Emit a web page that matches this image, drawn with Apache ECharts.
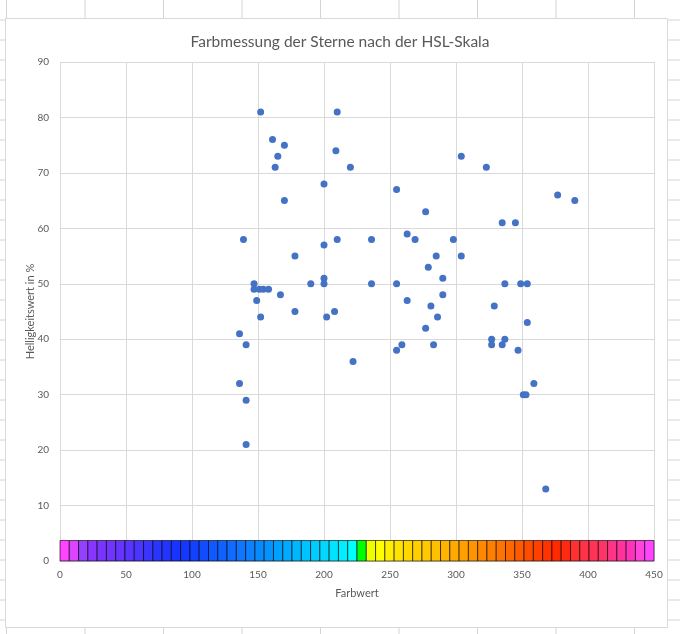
<!DOCTYPE html>
<html>
<head>
<meta charset="utf-8">
<script src="https://cdn.jsdelivr.net/npm/echarts@6/dist/echarts.min.js"></script>
<style>
  html, body { margin: 0; padding: 0; background: #ffffff; }
  #chart { width: 680px; height: 634px; }
</style>
</head>
<body>
<div id="chart"></div>
<script>
// Messwerte: Farbwert (Hue) und Helligkeit in % je Stern
const farbwert = [
  152, 210, 161, 170, 165, 209, 163, 220, 200, 170,
  139, 210, 236, 200, 178, 200, 147, 190, 200, 236,
  147, 151, 154, 158, 149, 167, 178, 208, 152, 202,
  136, 141, 222, 136, 141, 141,
  304, 323, 255, 277, 263, 269, 298, 285, 304, 279,
  290, 255, 290, 263, 281, 329, 286, 277, 327, 327,
  259, 283, 255,
  377, 390, 335, 345, 337, 349, 354, 354, 337, 335, 347,
  359, 351, 353, 368
];
const helligkeit = [
  81, 81, 76, 75, 73, 74, 71, 71, 68, 65,
  58, 58, 58, 57, 55, 51, 50, 50, 50, 50,
  49, 49, 49, 49, 47, 48, 45, 45, 44, 44,
  41, 39, 36, 32, 29, 21,
  73, 71, 67, 63, 59, 58, 58, 55, 55, 53,
  51, 50, 48, 47, 46, 46, 44, 42, 40, 39,
  39, 39, 38,
  66, 65, 61, 61, 50, 50, 50, 43, 40, 39, 38,
  32, 30, 30, 13
];

// Farbskala am unteren Rand: 64 gleich breite Felder von 0 bis 450
const skalaFarben = [
  '#ff44ff', '#dd44ff', '#9440ff', '#8836ff', '#7a34ff', '#7034ff', '#6634ff', '#5834ff',
  '#4a34ff', '#3c34ff', '#2a34ff', '#2234ff', '#1a34ff', '#1438ff', '#1242ff', '#114cff',
  '#1058ff', '#1062ff', '#106cff', '#1076ff', '#0c80ff', '#088aff', '#0494ff', '#00a0ff',
  '#00aaff', '#00b6ff', '#00c2ff', '#00ccff', '#00d8ff', '#00e4ff', '#00eeff', '#00ffff',
  '#00ff00', '#eeff00', '#ffff00', '#ffee00', '#ffe400', '#ffd800', '#ffd000', '#ffc800',
  '#ffc000', '#ffb400', '#ffaa00', '#ffa000', '#ff9400', '#ff8800', '#ff8000', '#ff7400',
  '#ff6800', '#ff5a00', '#ff4c00', '#ff4000', '#ff3300', '#ff2a00', '#ff2a10', '#ff3030',
  '#ff3348', '#ff3355', '#ff3366', '#ff3388', '#ff3399', '#ff33bb', '#ff44dd', '#ff44ff'
];
const skalaHoehe = 3.7;

// Achsen
const xMin = 0, xMax = 450, xStep = 50;
const yMin = 0, yMax = 90, yStep = 10;

const punkte = farbwert.map((x, i) => [x, helligkeit[i]]);
const feldBreite = (xMax - xMin) / skalaFarben.length;
const skalaDaten = skalaFarben.map((_, i) => [xMin + i * feldBreite, xMin + (i + 1) * feldBreite, skalaHoehe, i]);

// Tabellenraster hinter dem Diagrammbereich
const raster = [];
const spaltenX = [6.5, 85, 163.5, 242, 320.5, 399, 477.5, 556, 634.5];
spaltenX.forEach(x => raster.push({
  type: 'line', z: -20, silent: true,
  shape: { x1: x, y1: 0, x2: x, y2: 634 },
  style: { stroke: '#d4d4d4', lineWidth: 1 }
}));
for (let y = 20; y < 634; y += 20) {
  raster.push({
    type: 'line', z: -20, silent: true,
    shape: { x1: 0, y1: y, x2: 680, y2: y },
    style: { stroke: '#d4d4d4', lineWidth: 1 }
  });
}
raster.push({
  type: 'rect', z: -10, silent: true,
  shape: { x: 5.5, y: 18.5, width: 662, height: 609 },
  style: { fill: '#ffffff', stroke: '#d9d9d9', lineWidth: 1 }
});

const schrift = 'Lato, "Open Sans", sans-serif';
const textGrau = '#595959';

// Ein Farbfeld der Skala als Rechteck zwischen zwei Farbwerten
function skalaFeld(params, api) {
  const unten = api.coord([api.value(0), 0]);
  const oben = api.coord([api.value(1), api.value(2)]);
  return {
    type: 'rect',
    shape: { x: unten[0], y: oben[1], width: oben[0] - unten[0], height: unten[1] - oben[1] },
    style: { fill: skalaFarben[api.value(3)], stroke: 'rgba(0,0,0,0.62)', lineWidth: 1 }
  };
}

const chart = echarts.init(document.getElementById('chart'), null, { renderer: 'canvas' });
chart.setOption({
  animation: false,
  backgroundColor: '#ffffff',
  graphic: { elements: raster },
  title: {
    text: 'Farbmessung der Sterne nach der HSL-Skala',
    left: 'center',
    top: 29,
    textStyle: { fontFamily: schrift, fontSize: 15.5, fontWeight: 'normal', color: textGrau }
  },
  grid: { left: 60, right: 26, top: 62, bottom: 73, containLabel: false },
  xAxis: {
    type: 'value',
    min: xMin, max: xMax, interval: xStep,
    name: 'Farbwert',
    nameLocation: 'middle',
    nameGap: 27,
    nameMoveOverlap: false,
    nameTextStyle: { fontFamily: schrift, fontSize: 11, color: textGrau },
    axisLine: { show: true, lineStyle: { color: '#d9d9d9' } },
    axisTick: { show: false },
    axisLabel: { fontFamily: schrift, fontSize: 10, color: textGrau, margin: 9 },
    splitLine: { show: true, lineStyle: { color: '#d9d9d9', width: 1 } }
  },
  yAxis: {
    type: 'value',
    min: yMin, max: yMax, interval: yStep,
    name: 'Helligkeitswert in %',
    nameLocation: 'middle',
    nameGap: 24,
    nameMoveOverlap: false,
    nameTextStyle: { fontFamily: schrift, fontSize: 11, color: textGrau },
    axisLine: { show: false },
    axisTick: { show: false },
    axisLabel: { fontFamily: schrift, fontSize: 10, color: textGrau, margin: 11 },
    splitLine: { show: true, lineStyle: { color: '#d9d9d9', width: 1 } }
  },
  series: [
    {
      type: 'custom',
      name: 'Farbskala',
      renderItem: skalaFeld,
      data: skalaDaten,
      encode: { x: [0, 1], y: 2 },
      silent: true,
      z: 2
    },
    {
      type: 'scatter',
      name: 'Sterne',
      data: punkte,
      symbol: 'circle',
      symbolSize: 7,
      itemStyle: { color: '#4472c4', opacity: 1 },
      z: 3
    }
  ]
});
</script>
</body>
</html>
